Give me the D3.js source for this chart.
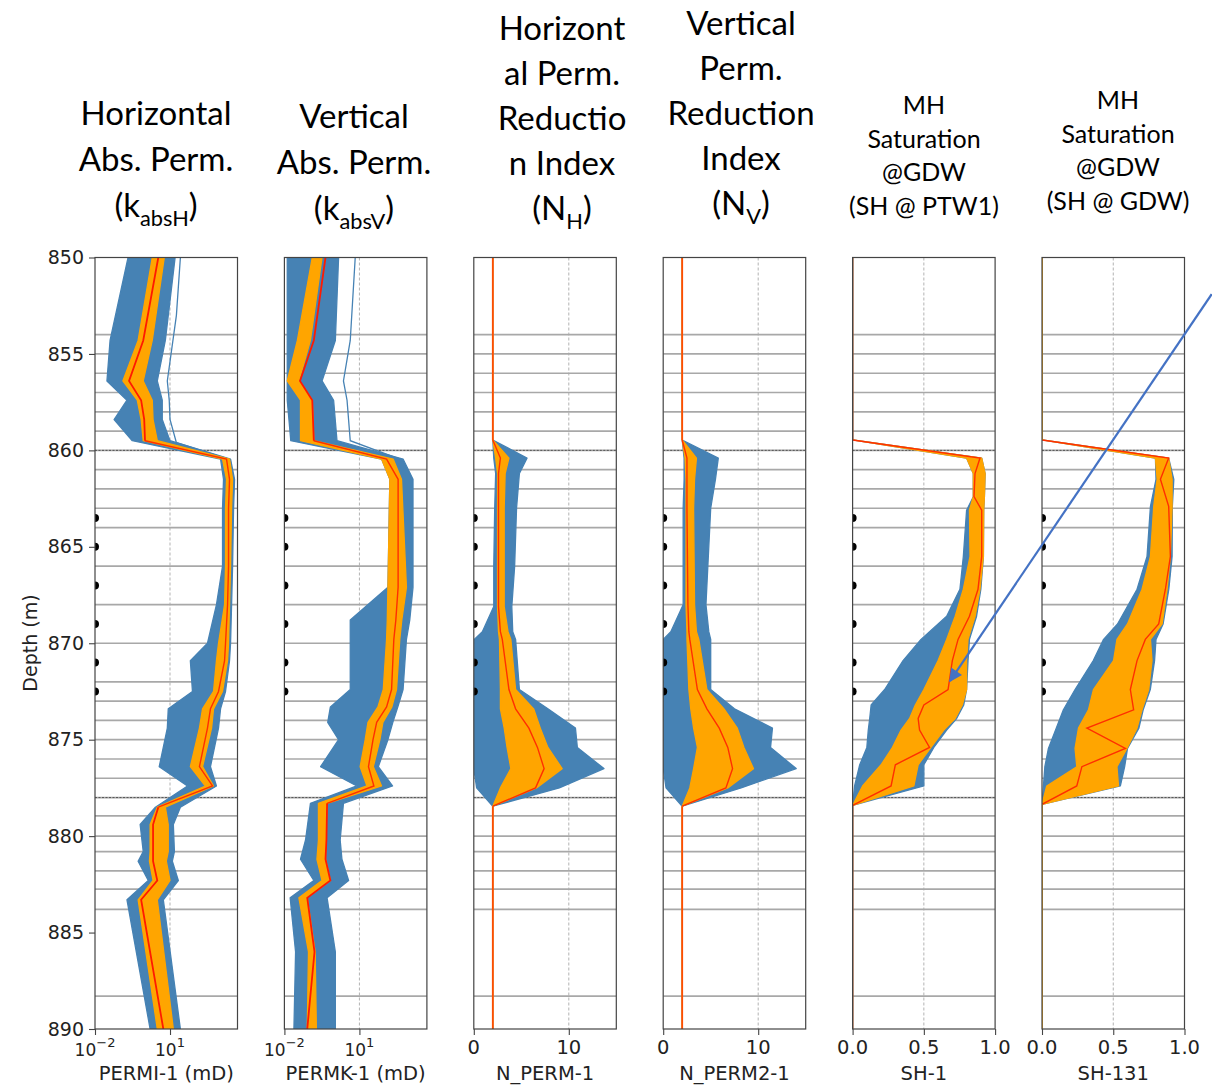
<!DOCTYPE html>
<html><head><meta charset="utf-8">
<script src="https://cdn.jsdelivr.net/npm/d3@7"></script>
<style>body{margin:0;background:#fff}svg{display:block}</style>
</head><body><svg id="c" width="1212" height="1088"></svg>
<script>
// ---------- data ----------
const depthDomain = [850, 890];
const yTicks = [850, 855, 860, 865, 870, 875, 880, 885, 890];
const layerBoundaries = [854, 855, 856, 857, 858, 859, 860, 861, 862, 863, 864, 866, 868, 870, 872, 873, 874, 875, 876, 877, 878, 878.95, 880, 880.8, 881.8, 882.75, 883.8, 888.3];
const hydrateMarkers = [860, 878];
const sampleDepths = [863.5, 865, 867, 869, 871, 872.5];

// rows: [depth, blue min, orange min, red line, orange max, blue max]
const permH = [
  [850, 0.21, 1.95, 3.4, 5.9, 16],
  [854.3, 0.04, 0.53, 0.85, 1.95, 6.5],
  [856.4, 0.03, 0.13, 0.23, 0.85, 3.1],
  [857.4, 0.19, 0.49, 0.70, 1.95, 4.9],
  [858.4, 0.058, 0.70, 0.93, 2.1, 4.9],
  [859.5, 0.31, 0.85, 1.0, 3.1, 10],
  [860.45, 1050, 1260, 1820, 2400, 2640],
  [861.5, 1380, 1820, 2400, 3180, 3820],
  [863, 1260, 1660, 2190, 2900, 3480],
  [866, 1260, 1660, 2190, 2640, 3180],
  [868, 720, 1520, 2000, 2400, 2900],
  [870, 315, 870, 1660, 2190, 2640],
  [870.9, 65, 720, 1520, 2000, 2400],
  [872.5, 79, 550, 870, 1260, 1660],
  [873.4, 8.5, 200, 415, 550, 1050],
  [874.4, 7.8, 150, 315, 460, 870],
  [876.4, 3.7, 65, 150, 200, 415],
  [877.4, 50, 260, 500, 550, 720],
  [878.5, 2.6, 3.1, 3.4, 6.5, 26],
  [879.4, 0.64, 1.6, 2.1, 8.5, 13.6],
  [880.8, 0.85, 1.6, 2.1, 8.5, 15],
  [881.3, 0.53, 1.5, 2.1, 7.1, 12.4],
  [882.3, 1.35, 2.1, 3.1, 10, 21.5],
  [883.3, 0.19, 0.53, 0.70, 3.1, 5.4],
  [890, 1.6, 3.1, 5.4, 13.6, 26]
];
const permHOutlier = [[850, 26], [853, 18], [856.4, 7.8], [857.4, 9.3], [858.4, 10], [859.6, 18], [860.45, 2190]];

const permV = [
  [850, 0.013, 0.13, 0.44, 0.32, 1.47],
  [854.3, 0.013, 0.033, 0.15, 0.11, 1.09],
  [856.4, 0.013, 0.013, 0.042, 0.038, 0.32],
  [857.4, 0.013, 0.044, 0.13, 0.13, 0.93],
  [859.5, 0.018, 0.044, 0.15, 0.15, 1.27],
  [860.45, 77, 77, 122, 223, 557],
  [861.5, 165, 165, 353, 482, 1390],
  [867.1, 138, 138, 353, 760, 1390],
  [868.8, 4.3, 130, 286, 495, 1030],
  [869.8, 4.3, 122, 238, 412, 760],
  [872.4, 4.3, 90, 193, 305, 557],
  [873.3, 0.69, 55, 122, 199, 344],
  [874.1, 0.54, 22, 49, 87, 217],
  [875, 1.47, 17, 35, 66, 138],
  [876.4, 0.28, 10.7, 23, 36, 57],
  [877.4, 7.9, 20, 38, 77, 211],
  [878.3, 0.11, 0.23, 0.51, 0.51, 2.3],
  [880.2, 0.07, 0.23, 0.48, 0.44, 1.7],
  [881.2, 0.044, 0.2, 0.44, 0.44, 2.0],
  [882.3, 0.15, 0.32, 0.69, 0.69, 3.7],
  [883.2, 0.017, 0.038, 0.082, 0.082, 0.51],
  [886, 0.028, 0.092, 0.16, 0.17, 1.09],
  [890, 0.024, 0.082, 0.082, 0.19, 1.09]
];
const permVOutlier = [[850, 6.8], [854.3, 4.3], [856.4, 2.3], [857.4, 3.2], [859.5, 4.3], [860.45, 412]];

const nPermH = [
  [850, 2, 2, 2, 2, 2],
  [859.46, 2, 2, 2, 2, 2],
  [860.4, 2.1, 2.3, 2.8, 3.7, 5.6],
  [861.2, 2.3, 2.5, 2.6, 3.3, 4.8],
  [863, 2.2, 2.5, 2.6, 3.2, 4.5],
  [866, 2.1, 2.5, 2.6, 3.2, 4.3],
  [868.1, 2.1, 2.5, 2.6, 3.2, 4.0],
  [869.4, 0.9, 2.6, 2.8, 3.6, 4.1],
  [869.8, 0.05, 2.7, 3.0, 3.9, 4.4],
  [872.4, 0, 2.8, 3.7, 4.4, 4.8],
  [873.4, 0, 2.8, 4.4, 6.3, 7.8],
  [874.4, 0, 3.2, 5.8, 7.0, 10.7],
  [875.4, 0, 3.5, 6.7, 7.8, 10.9],
  [876.5, 0, 3.9, 7.4, 9.3, 13.7],
  [877.5, 0.3, 2.8, 6.5, 6.6, 9.0],
  [878.45, 2, 2, 2, 2, 2],
  [890, 2, 2, 2, 2, 2]
];

const nPermV = [
  [850, 2, 2, 2, 2, 2],
  [859.46, 2, 2, 2, 2, 2],
  [860.4, 2.2, 2.3, 2.5, 3.5, 5.8],
  [861.5, 2.2, 2.4, 2.5, 3.3, 5.5],
  [863, 2.1, 2.4, 2.5, 3.2, 5.0],
  [868, 2.1, 2.4, 2.6, 3.3, 4.5],
  [869.4, 0.8, 2.5, 2.7, 3.5, 4.8],
  [869.8, 0, 2.5, 2.8, 3.75, 5.0],
  [872.4, 0, 2.7, 3.6, 4.6, 5.0],
  [873.4, 0, 2.9, 4.6, 6.4, 7.5],
  [874.4, 0, 3.2, 5.9, 7.8, 11.5],
  [875.4, 0, 3.6, 6.8, 8.5, 11.3],
  [876.5, 0, 3.2, 7.3, 9.5, 14.0],
  [877.5, 0.3, 2.8, 6.6, 6.8, 8.2],
  [878.45, 2, 2, 2, 2, 2],
  [890, 2, 2, 2, 2, 2]
];

const sh1 = [
  [850, 0, 0, 0, 0, 0],
  [859.46, 0, 0, 0, 0, 0],
  [860.4, 0.80, 0.80, 0.894, 0.906, 0.906],
  [861.2, 0.847, 0.847, 0.859, 0.93, 0.93],
  [862.4, 0.847, 0.847, 0.852, 0.925, 0.925],
  [863.1, 0.80, 0.82, 0.906, 0.92, 0.92],
  [865.5, 0.777, 0.824, 0.906, 0.918, 0.918],
  [867.2, 0.753, 0.777, 0.88, 0.894, 0.90],
  [868.6, 0.66, 0.72, 0.82, 0.86, 0.87],
  [869.8, 0.48, 0.66, 0.74, 0.81, 0.82],
  [870.9, 0.354, 0.60, 0.70, 0.80, 0.81],
  [872.4, 0.225, 0.50, 0.67, 0.80, 0.80],
  [873.2, 0.13, 0.44, 0.50, 0.77, 0.78],
  [873.9, 0.12, 0.40, 0.46, 0.72, 0.73],
  [874.5, 0.11, 0.34, 0.47, 0.64, 0.66],
  [875.4, 0.10, 0.28, 0.54, 0.55, 0.57],
  [876.3, 0.05, 0.20, 0.30, 0.46, 0.50],
  [877.4, 0.014, 0.07, 0.27, 0.43, 0.50],
  [878.4, 0, 0, 0, 0, 0],
  [890, 0, 0, 0, 0, 0]
];

const sh131 = [
  [850, 0, 0, 0, 0, 0],
  [859.46, 0, 0, 0, 0, 0],
  [860.4, 0.796, 0.796, 0.889, 0.889, 0.889],
  [861.5, 0.80, 0.808, 0.831, 0.913, 0.925],
  [862.9, 0.761, 0.784, 0.889, 0.913, 0.915],
  [865.5, 0.737, 0.761, 0.901, 0.901, 0.913],
  [867.2, 0.667, 0.702, 0.866, 0.878, 0.89],
  [869.0, 0.53, 0.60, 0.819, 0.843, 0.85],
  [869.8, 0.432, 0.526, 0.725, 0.761, 0.80],
  [870.9, 0.36, 0.502, 0.667, 0.772, 0.79],
  [872.4, 0.232, 0.361, 0.62, 0.749, 0.76],
  [873.45, 0.15, 0.326, 0.643, 0.702, 0.71],
  [874.4, 0.10, 0.256, 0.315, 0.667, 0.68],
  [875.45, 0.045, 0.232, 0.585, 0.596, 0.60],
  [876.4, 0.02, 0.244, 0.28, 0.526, 0.58],
  [877.4, 0.01, 0.033, 0.244, 0.537, 0.55],
  [878.35, 0, 0, 0, 0, 0],
  [890, 0, 0, 0, 0, 0]
];

const logTicks = [0.01, 10];
const nTicks = [0, 10];
const shTicks = [0, 0.5, 1];
const xLabels = ["PERMI-1 (mD)", "PERMK-1 (mD)", "N_PERM-1", "N_PERM2-1", "SH-1", "SH-131"];
const titles = [
  ["Horizontal", "Abs. Perm.", "(k_{absH})"],
  ["Vertical", "Abs. Perm.", "(k_{absV})"],
  ["Horizont", "al Perm.", "Reductio", "n Index", "(N_{H})"],
  ["Vertical", "Perm.", "Reduction", "Index", "(N_{V})"],
  ["MH", "Saturation", "@GDW", "(SH @ PTW1)"],
  ["MH", "Saturation", "@GDW", "(SH @ GDW)"]
];
const annotationArrow = {from: [2.52, 851.9], to: [0.683, 871.96]}; // in SH-1 track units

// ---------- layout ----------
const plotTop = 257.5, plotBottom = 1029;
const left0 = 95, step = 189.4, pw = 142.5;
const titleLayout = [
  {cx: 156, y0: 113, dy: 46, size: 33},
  {cx: 354, y0: 116, dy: 46, size: 33},
  {cx: 562, y0: 28, dy: 45, size: 33},
  {cx: 741, y0: 23, dy: 45, size: 33},
  {cx: 924, y0: 105, dy: 33.5, size: 25},
  {cx: 1118, y0: 100, dy: 33.5, size: 25}
];
const BLUE = "#4682b4", ORANGE = "#ffa500", RED = "#ff1a00";
const baseColors = [RED, RED, "#ff4d00", "#ff4d00", "#b0302a", ORANGE];
const tickFont = "DejaVu Sans, sans-serif";
const titleFont = "Lato, 'Open Sans', sans-serif";

const svg = d3.select("#c");
const defs = svg.append("defs");
const y = d3.scaleLinear().domain(depthDomain).range([plotTop, plotBottom]);

const tracks = [
  {data: permH, outlier: permHOutlier, log: true, domain: [0.01, 5000], ticks: logTicks, grid: [10]},
  {data: permV, outlier: permVOutlier, log: true, domain: [0.01, 5000], ticks: logTicks, grid: [10]},
  {data: nPermH, log: false, domain: [0, 15], ticks: nTicks, grid: [10], fmt: d3.format("d")},
  {data: nPermV, log: false, domain: [0, 15], ticks: nTicks, grid: [10], fmt: d3.format("d")},
  {data: sh1, log: false, domain: [0, 1], ticks: shTicks, grid: [0.5], fmt: d3.format(".1f")},
  {data: sh131, log: false, domain: [0, 1], ticks: shTicks, grid: [0.5], fmt: d3.format(".1f")}
];

function richText(sel, str, size) {
  const parts = str.split(/(_\{[^}]*\})/).filter(s => s.length);
  let lowered = false;
  parts.forEach(p => {
    if (p.startsWith("_{")) {
      sel.append("tspan").attr("dy", size * 0.28).attr("font-size", size * 0.66).text(p.slice(2, -1));
      lowered = true;
    } else {
      const t = sel.append("tspan").text(p);
      if (lowered) { t.attr("dy", -size * 0.28); lowered = false; }
    }
  });
}

const xScales = [];
tracks.forEach((t, i) => {
  const left = left0 + i * step;
  const x = (t.log ? d3.scaleLog() : d3.scaleLinear()).domain(t.domain).range([left, left + pw]);
  xScales.push(x);
  const g = svg.append("g");
  defs.append("clipPath").attr("id", "clip" + i).append("rect")
    .attr("x", left).attr("y", plotTop).attr("width", pw).attr("height", plotBottom - plotTop);
  const pg = g.append("g").attr("clip-path", `url(#clip${i})`);

  // vertical dashed grid
  pg.selectAll("line.vg").data(t.grid).join("line").attr("class", "vg")
    .attr("x1", d => x(d)).attr("x2", d => x(d)).attr("y1", plotTop).attr("y2", plotBottom)
    .attr("stroke", "#b3b3b3").attr("stroke-width", 1).attr("stroke-dasharray", "3,2");
  // layer boundaries
  pg.selectAll("line.lb").data(layerBoundaries).join("line").attr("class", "lb")
    .attr("x1", left).attr("x2", left + pw).attr("y1", d => y(d)).attr("y2", d => y(d))
    .attr("stroke", "#a8a8a8").attr("stroke-width", 1.7);
  pg.selectAll("line.hm").data(hydrateMarkers).join("line").attr("class", "hm")
    .attr("x1", left).attr("x2", left + pw).attr("y1", d => y(d)).attr("y2", d => y(d))
    .attr("stroke", "#555").attr("stroke-width", 1).attr("stroke-dasharray", "2,1.5");

  // ensemble envelopes
  const blueArea = d3.area().y(d => y(d[0])).x0(d => x(d[1])).x1(d => x(d[5]));
  const orangeArea = d3.area().y(d => y(d[0])).x0(d => x(d[2])).x1(d => x(d[4]));
  pg.append("path").datum(t.data).attr("d", blueArea)
    .attr("fill", BLUE).attr("stroke", BLUE).attr("stroke-width", 1.3).attr("stroke-linejoin", "round");
  if (t.outlier) {
    pg.append("path").datum(t.outlier)
      .attr("d", d3.line().x(d => x(d[1])).y(d => y(d[0])))
      .attr("fill", "none").attr("stroke", BLUE).attr("stroke-width", 1.3);
  }
  pg.append("path").datum(t.data).attr("d", orangeArea)
    .attr("fill", ORANGE).attr("stroke", ORANGE).attr("stroke-width", 1.3).attr("stroke-linejoin", "round");

  // mean line: inside the hydrate zone in red, the constant part outside in the track's base colour
  const zoneLine = d3.line().defined(d => d[0] >= 859.4 && d[0] <= 878.55).x(d => x(d[3])).y(d => y(d[0]));
  const baseLine = d3.line().defined(d => d[0] <= 859.5 || d[0] >= 878.3).x(d => x(d[3])).y(d => y(d[0]));
  pg.append("path").datum(t.data).attr("d", zoneLine)
    .attr("fill", "none").attr("stroke", RED).attr("stroke-width", 1.4).attr("stroke-opacity", 0.85);
  pg.append("path").datum(t.data).attr("d", baseLine)
    .attr("fill", "none").attr("stroke", baseColors[i]).attr("stroke-width", i >= 4 ? 1.4 : 1.8);

  // sample points on the left edge
  pg.selectAll("circle").data(sampleDepths).join("circle")
    .attr("cx", left).attr("cy", d => y(d)).attr("r", 4).attr("fill", "#000");

  // frame
  g.append("rect").attr("x", left).attr("y", plotTop).attr("width", pw).attr("height", plotBottom - plotTop)
    .attr("fill", "none").attr("stroke", "#444").attr("stroke-width", 1.2);

  // x axis
  const ax = g.append("g").attr("transform", `translate(0,${plotBottom})`)
    .call(d3.axisBottom(x).tickValues(t.ticks).tickFormat("").tickSize(6).tickSizeOuter(0));
  ax.select(".domain").remove();
  ax.selectAll("line").attr("stroke", "#444").attr("stroke-width", 1.1);
  const lab = g.selectAll("text.xt").data(t.ticks).join("text").attr("class", "xt")
    .attr("x", d => x(d)).attr("text-anchor", "middle")
    .attr("font-family", tickFont).attr("fill", "#222");
  if (t.log) {
    lab.attr("y", 1056).attr("font-size", 17);
    lab.each(function (d) {
      const e = Math.round(Math.log10(d));
      const s = d3.select(this);
      s.append("tspan").text("10");
      s.append("tspan").attr("dy", -9).attr("font-size", 13).text(e < 0 ? "\u2212" + (-e) : String(e));
    });
  } else {
    lab.attr("y", 1054).attr("font-size", 19.5).text(d => t.fmt(d));
  }
  g.append("text").attr("x", left + pw / 2).attr("y", 1080).attr("text-anchor", "middle")
    .attr("font-family", tickFont).attr("font-size", 19.5).attr("fill", "#222").text(xLabels[i]);

  // title
  const tl = titleLayout[i];
  titles[i].forEach((line, k) => {
    const tx = svg.append("text").attr("x", tl.cx).attr("y", tl.y0 + k * tl.dy + tl.size * 0.36)
      .attr("text-anchor", "middle").attr("font-family", titleFont).attr("font-size", tl.size).attr("fill", "#000");
    richText(tx, line, tl.size);
  });
});

// y axis on first track
const yax = svg.append("g").attr("transform", `translate(${left0},0)`)
  .call(d3.axisLeft(y).tickValues(yTicks).tickFormat(d3.format("d")).tickSize(6).tickPadding(5).tickSizeOuter(0));
yax.select(".domain").remove();
yax.selectAll("line").attr("stroke", "#444").attr("stroke-width", 1.1);
yax.selectAll("text").attr("font-family", tickFont).attr("font-size", 19).attr("fill", "#222");
svg.append("text").attr("transform", `translate(30,643) rotate(-90)`)
  .attr("text-anchor", "middle").attr("dominant-baseline", "central")
  .attr("font-family", tickFont).attr("font-size", 19).attr("fill", "#222")
  .text("Depth (m)");

// annotation arrow (in SH-1 track coordinates)
defs.append("marker").attr("id", "ah").attr("viewBox", "0 0 10 10").attr("refX", 9).attr("refY", 5)
  .attr("markerWidth", 7).attr("markerHeight", 6).attr("orient", "auto").attr("markerUnits", "strokeWidth")
  .append("path").attr("d", "M0,0 L10,5 L0,10 z").attr("fill", "#4472c4");
const xa = xScales[4];
svg.append("line")
  .attr("x1", xa(annotationArrow.from[0])).attr("y1", y(annotationArrow.from[1]))
  .attr("x2", xa(annotationArrow.to[0])).attr("y2", y(annotationArrow.to[1]))
  .attr("stroke", "#4472c4").attr("stroke-width", 2.2).attr("marker-end", "url(#ah)");
</script>
</body></html>
